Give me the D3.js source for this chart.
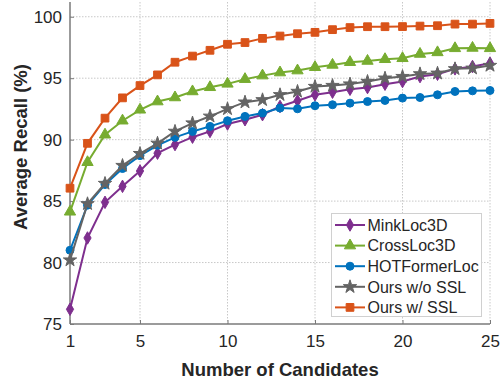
<!DOCTYPE html>
<html><head><meta charset="utf-8">
<script src="https://cdn.jsdelivr.net/npm/d3@7/dist/d3.min.js"></script>
<style>body{margin:0;background:#fff}svg{display:block;font-family:"Liberation Sans",Arial,sans-serif}</style>
</head><body><svg id="c" width="500" height="382"></svg>
<script>
const candidates = d3.range(1, 26);
const minkloc3d = [76.2,82.0,84.9,86.2,87.45,88.9,89.6,90.2,90.67,91.27,91.62,92.03,92.7,93.16,93.65,93.86,94.1,94.24,94.51,94.73,95.13,95.32,95.76,95.95,96.22];
const crossloc3d = [84.13,88.16,90.4,91.54,92.43,93.1,93.43,93.92,94.26,94.54,94.92,95.21,95.46,95.62,95.89,96.08,96.3,96.4,96.54,96.62,96.97,97.1,97.43,97.46,97.43];
const hotformerloc = [81.0,84.67,86.35,87.65,88.7,89.54,90.19,90.67,91.08,91.54,91.89,92.16,92.57,92.51,92.76,92.84,92.97,93.1,93.19,93.38,93.43,93.65,93.92,93.97,94.0];
const oursNoSSL = [80.2,84.78,86.43,87.89,88.86,89.7,90.67,91.35,91.9,92.5,93.05,93.24,93.65,93.92,94.32,94.4,94.52,94.73,95.0,95.13,95.35,95.4,95.76,95.81,96.03];
const oursSSL = [86.05,89.7,91.75,93.4,94.4,95.27,96.3,96.8,97.27,97.76,97.9,98.24,98.43,98.62,98.73,98.95,99.12,99.19,99.19,99.2,99.24,99.27,99.4,99.4,99.46];
const seriesNames = ["MinkLoc3D","CrossLoc3D","HOTFormerLoc","Ours w/o SSL","Ours w/ SSL"];
const seriesValues = [minkloc3d, crossloc3d, hotformerloc, oursNoSSL, oursSSL];
const seriesColors = ["#7E2F8E","#77AC30","#0072BD","#646464","#D95319"];
const seriesMarkers = ["diamond","triangle","circle","star","square"];
const xTicks = [1,5,10,15,20,25];
const yTicks = [75,80,85,90,95,100];

const svg = d3.select("#c");
const L = 70, R = 490, T = 2, B = 324;
const x = d3.scaleLinear().domain([1,25]).range([L,R]);
const y = d3.scaleLinear().domain([75,101.2]).range([B,T]);
const axisColor = "#7a7a7a", textColor = "#262626";

// grid
const g = svg.append("g");
g.selectAll(".gx").data(xTicks.slice(1)).enter().append("line")
  .attr("x1",d=>x(d)).attr("x2",d=>x(d)).attr("y1",T).attr("y2",B)
  .attr("stroke","#c8c8c8").attr("stroke-width",1).attr("stroke-dasharray","1.5,1.5");
g.selectAll(".gy").data(yTicks.slice(1)).enter().append("line")
  .attr("x1",L).attr("x2",R).attr("y1",d=>y(d)).attr("y2",d=>y(d))
  .attr("stroke","#c8c8c8").attr("stroke-width",1).attr("stroke-dasharray","1.5,1.5");

// axes
const xAxis = svg.append("g").attr("transform",`translate(0,${B})`)
  .call(d3.axisBottom(x).tickValues(xTicks).tickSize(-4).tickPadding(11));
const yAxis = svg.append("g").attr("transform",`translate(${L},0)`)
  .call(d3.axisLeft(y).tickValues(yTicks).tickSize(-4).tickPadding(8));
[xAxis,yAxis].forEach(a=>{
  a.select(".domain").attr("stroke",axisColor).attr("stroke-width",1.5);
  a.selectAll(".tick line").attr("stroke",axisColor).attr("stroke-width",1);
  a.selectAll("text").attr("fill",textColor).attr("font-size",17)
    .attr("font-family",'"Liberation Sans",Arial,sans-serif');
});
xAxis.select(".domain").attr("d",`M${L},0H${R}`);
yAxis.select(".domain").attr("d",`M0,${T}V${B}`);

// labels
svg.append("text").attr("x",280).attr("y",376).attr("text-anchor","middle")
  .attr("font-weight","bold").attr("font-size",18.5).attr("fill",textColor).text("Number of Candidates");
svg.append("text").attr("transform","translate(27,147) rotate(-90)").attr("text-anchor","middle")
  .attr("font-weight","bold").attr("font-size",18.5).attr("fill",textColor).text("Average Recall (%)");

function marker(sel, type, color){
  const sym = {diamond:d3.symbolDiamond, triangle:d3.symbolTriangle, circle:d3.symbolCircle, star:d3.symbolStar, square:d3.symbolSquare}[type];
  const size = {diamond:45, triangle:55, circle:50, star:55, square:60}[type];
  sel.attr("d", d3.symbol().type(sym).size(size)).attr("fill",color).attr("stroke",color).attr("stroke-width",1);
}

const line = d3.line().x((d,i)=>x(candidates[i])).y(d=>y(d));
seriesValues.forEach((vals,si)=>{
  const gg = svg.append("g");
  gg.append("path").attr("d",line(vals)).attr("fill","none")
    .attr("stroke",seriesColors[si]).attr("stroke-width",2);
  gg.selectAll("path.m").data(vals).enter().append("path").attr("class","m")
    .attr("transform",(d,i)=>`translate(${x(candidates[i])},${y(d)})`)
    .call(marker, seriesMarkers[si], seriesColors[si]);
});

// legend
const lg = svg.append("g");
lg.append("rect").attr("x",331.5).attr("y",213.5).attr("width",150).attr("height",103)
  .attr("fill","#fff").attr("stroke","#d0d0d0").attr("stroke-width",1);
seriesNames.forEach((n,i)=>{
  const yy = 225 + i*20.6;
  lg.append("line").attr("x1",335).attr("x2",365).attr("y1",yy).attr("y2",yy)
    .attr("stroke",seriesColors[i]).attr("stroke-width",2);
  lg.append("path").attr("transform",`translate(350,${yy})`).call(marker, seriesMarkers[i], seriesColors[i]);
  lg.append("text").attr("x",367.5).attr("y",yy+5.8).attr("font-size",16).attr("fill",textColor).text(n);
});
</script></body></html>
